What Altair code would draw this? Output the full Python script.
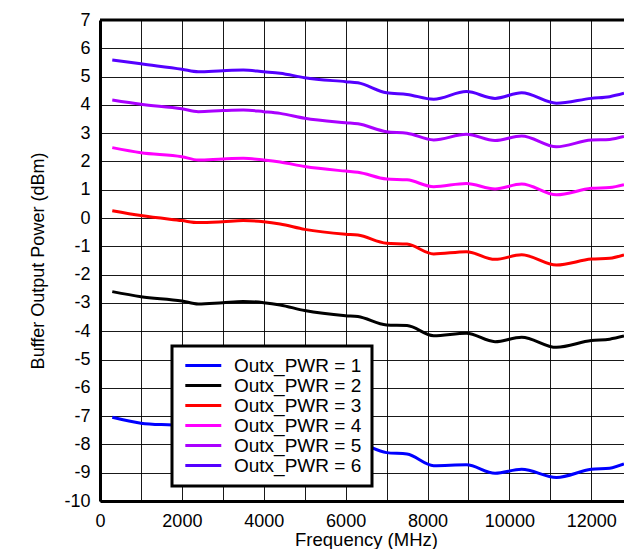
import altair as alt
import pandas as pd

freq_mhz = [300, 1000, 2000, 2400, 3000, 3500, 4000, 4400, 5000, 6000, 6300,
            7000, 7500, 8150, 8950, 9650, 10300, 11150, 12000, 12450, 12800]

pwr_1 = [-7.04, -7.25, -7.35, -7.45, -7.42, -7.40, -7.45, -7.52, -7.70, -7.90, -7.95,
         -8.29, -8.34, -8.75, -8.72, -9.02, -8.88, -9.17, -8.88, -8.84, -8.69]
pwr_2 = [-2.60, -2.78, -2.93, -3.04, -2.99, -2.95, -2.99, -3.07, -3.27, -3.45, -3.48,
         -3.78, -3.80, -4.16, -4.07, -4.37, -4.21, -4.57, -4.33, -4.28, -4.17]
pwr_3 = [0.26, 0.09, -0.09, -0.16, -0.13, -0.09, -0.13, -0.21, -0.40, -0.57, -0.60,
         -0.89, -0.92, -1.27, -1.19, -1.46, -1.30, -1.66, -1.45, -1.42, -1.30]
pwr_4 = [2.49, 2.31, 2.17, 2.05, 2.09, 2.11, 2.05, 1.98, 1.82, 1.66, 1.62,
         1.38, 1.35, 1.11, 1.22, 1.03, 1.20, 0.82, 1.05, 1.08, 1.18]
pwr_5 = [4.17, 4.02, 3.86, 3.76, 3.80, 3.82, 3.76, 3.70, 3.53, 3.37, 3.33,
         3.05, 3.00, 2.76, 2.96, 2.74, 2.90, 2.52, 2.76, 2.78, 2.88]
pwr_6 = [5.59, 5.45, 5.26, 5.17, 5.21, 5.23, 5.17, 5.12, 4.96, 4.82, 4.78,
         4.43, 4.37, 4.20, 4.47, 4.23, 4.43, 4.06, 4.23, 4.29, 4.41]

series_names = ["Outx_PWR = 1", "Outx_PWR = 2", "Outx_PWR = 3",
                "Outx_PWR = 4", "Outx_PWR = 5", "Outx_PWR = 6"]
series_colors = ["#0000ff", "#000000", "#ff0000", "#ff00ff", "#aa00ff", "#5500ff"]
series_values = [pwr_1, pwr_2, pwr_3, pwr_4, pwr_5, pwr_6]

x_ticks = list(range(0, 12801, 1000))
y_ticks = list(range(-10, 8))

rows = []
for name, vals in zip(series_names, series_values):
    for f, v in zip(freq_mhz, vals):
        rows.append({"freq": f, "power": v, "series": name})
df = pd.DataFrame(rows)

FONT = "Liberation Sans, Arial, sans-serif"

x_scale = alt.Scale(domain=[0, 12800], nice=False, zero=False)
y_scale = alt.Scale(domain=[-10, 7], nice=False, zero=False)

x_axis = alt.Axis(
    values=x_ticks,
    labelExpr="datum.value % 2000 == 0 ? '' + datum.value : ''",
    title="Frequency (MHz)",
    ticks=False,
    tickSize=0,
    labelPadding=11,
    titleY=44.5,
    titleX=266,
    titleBaseline="alphabetic",
    titleFontSize=18.5,
    labelFlush=False,
    labelOverlap=False,
)
y_axis = alt.Axis(
    values=y_ticks,
    labelExpr="'' + datum.value",
    title="Buffer Output Power (dBm)",
    ticks=False,
    tickSize=0,
    labelPadding=10,
    titlePadding=16,
    labelOverlap=False,
    labelFlush=False,
)

lines = alt.Chart(df).mark_line(interpolate="monotone", strokeWidth=3, clip=True).encode(
    x=alt.X("freq:Q", scale=x_scale, axis=x_axis),
    y=alt.Y("power:Q", scale=y_scale, axis=y_axis),
    color=alt.Color(
        "series:N",
        scale=alt.Scale(domain=series_names, range=series_colors),
        legend=alt.Legend(
            title=None,
            orient="none",
            legendX=72,
            legendY=326,
            symbolType="M -0.86 0 L 4.14 0",
            symbolSize=207,
            symbolStrokeWidth=3,
            labelOffset=33,
            labelFontSize=19,
            labelFont=FONT,
            labelColor="#000000",
            rowPadding=0,
            padding=10,
            strokeColor="#000000",
            fillColor="#ffffff",
        ),
    ),
    detail="series:N",
)

top_border = alt.Chart(pd.DataFrame({"top": [7]})).mark_rule(
    color="#000000", strokeWidth=3
).encode(y=alt.Y("top:Q", scale=y_scale, axis=y_axis))

chart = (
    alt.layer(lines, top_border)
    .properties(
        width=524,
        height=481,
        autosize=alt.AutoSizeParams(type="none"),
        padding={"left": 92, "top": 12, "right": 0, "bottom": 48},
    )
    .configure_view(stroke=None)
    .configure_axis(
        domainColor="#000000",
        domainWidth=3,
        gridColor="#000000",
        gridWidth=1,
        gridOpacity=0.9,
        labelFont=FONT,
        labelFontSize=18,
        labelColor="#000000",
        titleFont=FONT,
        titleFontSize=18,
        titleFontWeight="normal",
        titleColor="#000000",
    )
    .configure_legend(strokeWidth=3)
)

chart.save("out.html", embed_options={"renderer": "svg", "actions": False})
